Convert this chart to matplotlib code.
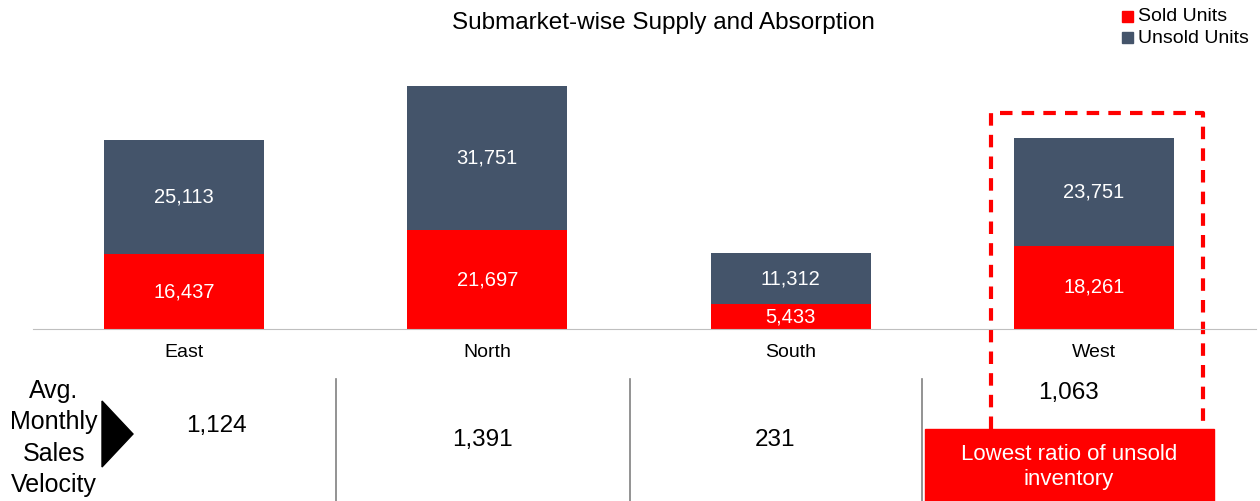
import matplotlib.pyplot as plt
from matplotlib.patches import Rectangle, Polygon

plt.rcParams['font.family'] = ['Liberation Sans', 'DejaVu Sans']

regions = ['East', 'North', 'South', 'West']
sold = [16437, 21697, 5433, 18261]
unsold = [25113, 31751, 11312, 23751]
velocity = ['1,124', '1,391', '231', '1,063']

red = '#FF0000'
slate = '#44546A'

W, H = 1260, 501
fig = plt.figure(figsize=(W / 100, H / 100), dpi=100)

# overlay in pixel coordinates for the table part
ov = fig.add_axes([0, 0, 1, 1])
ov.set_xlim(0, W)
ov.set_ylim(H, 0)
ov.axis('off')

# bar chart axes: baseline at y=329px, bars centred at 184, 488, 791, 1094
step = 303.3
x0, x1 = 33, 1256
base, top = 329, 56
ax = fig.add_axes([x0 / W, (H - base) / H, (x1 - x0) / W, (base - top) / H])
ax.set_xlim((x0 - 184) / step, (x1 - 184) / step)
ax.set_ylim(0, 60000)
xs = range(len(regions))
ax.bar(xs, sold, width=0.5275, color=red, label='Sold Units')
ax.bar(xs, unsold, width=0.5275, bottom=sold, color=slate, label='Unsold Units')
for i in xs:
    ax.text(i, sold[i] / 2, f'{sold[i]:,}', color='white', ha='center', va='center', fontsize=14.5)
    ax.text(i, sold[i] + unsold[i] / 2, f'{unsold[i]:,}', color='white', ha='center', va='center', fontsize=14.5)
ax.set_xticks(list(xs))
ax.set_xticklabels(regions, fontsize=14)
ax.tick_params(axis='x', length=0, pad=11)
ax.set_yticks([])
for s in ['top', 'right', 'left']:
    ax.spines[s].set_visible(False)
ax.spines['bottom'].set_color('#BFBFBF')
ax.patch.set_alpha(0)

ov.text(663, 23, 'Submarket-wise Supply and Absorption', ha='center', va='center', fontsize=17.5)

# legend
ov.add_patch(Rectangle((1122, 11), 11, 11, color=red))
ov.text(1138, 16, 'Sold Units', va='center', fontsize=14)
ov.add_patch(Rectangle((1122, 32), 11, 11, color=slate))
ov.text(1138, 38, 'Unsold Units', va='center', fontsize=14)

# table section
ov.text(54, 438, 'Avg.\nMonthly\nSales\nVelocity', ha='center', va='center', fontsize=18, linespacing=1.38)
ov.add_patch(Polygon([[102, 401], [133, 434], [102, 467]], color='black'))
for xv in [336, 630, 922]:
    ov.plot([xv, xv], [379, 501], color='#808080', lw=1.2)
val_pos = [(216, 426), (482, 440), (775, 440), (1069, 393)]
for (px, py), v in zip(val_pos, velocity):
    ov.text(px, py, v, ha='center', va='center', fontsize=17.5)

# highlight for West
ov.add_patch(Rectangle((925, 429), 289, 72, color=red))
ov.text(1069, 467, 'Lowest ratio of unsold\ninventory', color='white', ha='center', va='center',
        fontsize=16, linespacing=1.25)
ov.plot([991, 991, 1203, 1203], [429, 113, 113, 429], color=red, lw=3, ls=(0, (3, 2.2)))

fig.savefig('out.png', dpi=100)
